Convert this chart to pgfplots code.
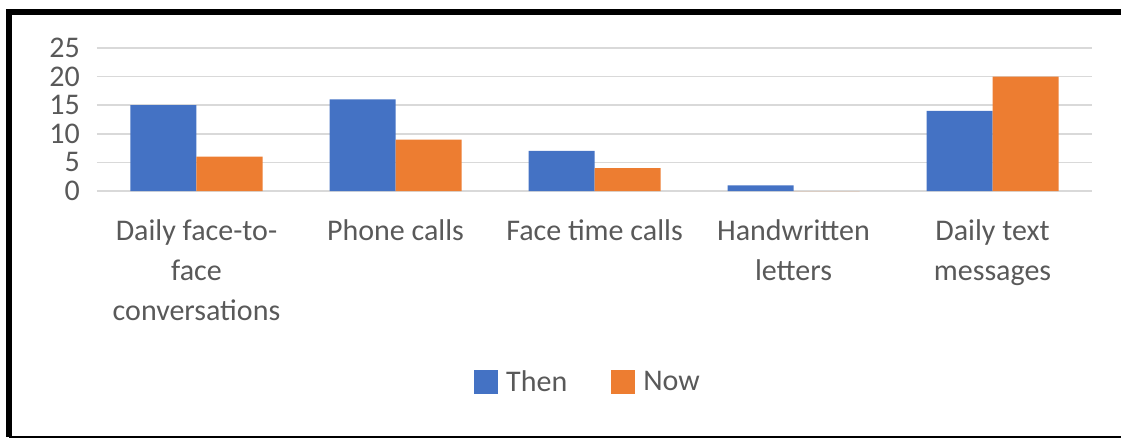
\documentclass[border=0pt]{standalone}
\usepackage{fontspec}
\setmainfont{Carlito}
\usepackage{pgfplots}
\pgfplotsset{compat=1.18}
\definecolor{cblue}{HTML}{4472C4}
\definecolor{corange}{HTML}{ED7D31}
\definecolor{cgrid}{HTML}{D9D9D9}
\definecolor{ctext}{HTML}{595959}
\begin{document}
\begin{tikzpicture}
\useasboundingbox (-97bp,191bp) rectangle (1024bp,-247bp);
\begin{axis}[
  at={(0,0)}, anchor=south west,
  scale only axis,
  width=995bp, height=143bp,
  ybar=0pt, bar width=66bp,
  xmin=-0.5, xmax=4.5,
  ymin=0, ymax=25,
  ytick={0,5,10,15,20,25},
  xtick={0,1,2,3,4},
  xticklabels={{Daily face-to-\\face\\conversations},{Phone calls},{Face time calls},{Handwritten\\letters},{Daily text\\messages}},
  axis line style={draw=none},
  major tick style={draw=none},
  ymajorgrids, grid style={cgrid, line width=1.5bp},
  /pgf/number format/assume math mode=true,
  every tick label/.append style={font=\fontsize{30bp}{40bp}\selectfont, text=ctext},
  yticklabel style={anchor=east, inner sep=0pt, xshift=-17bp},
  xticklabel style={anchor=north, inner sep=0pt, align=center, yshift=-24bp},
  legend columns=2,
  legend style={at={(0.4935,-1.3357)}, anchor=center, draw=none, fill=none,
    font=\fontsize{30bp}{40bp}\selectfont, text=ctext,
    /tikz/every even column/.append style={column sep=42bp}},
  legend image code/.code={\fill[#1] (0bp,-12bp) rectangle (24bp,12bp); \path (30bp,0bp);},
]
\addplot[fill=cblue, draw=none] coordinates {(0,15) (1,16) (2,7) (3,1) (4,14)};
\addplot[fill=corange, draw=none] coordinates {(0,6) (1,9) (2,4) (3,0) (4,20)};
\legend{Then,Now}
\end{axis}
\draw[line width=6bp, black] (-88bp,-246bp) -- (-88bp,179bp);
\draw[line width=6bp, black] (-91bp,179bp) -- (1024bp,179bp);
\draw[line width=2bp, black] (-88bp,-246bp) -- (1024bp,-246bp);
\end{tikzpicture}
\end{document}
